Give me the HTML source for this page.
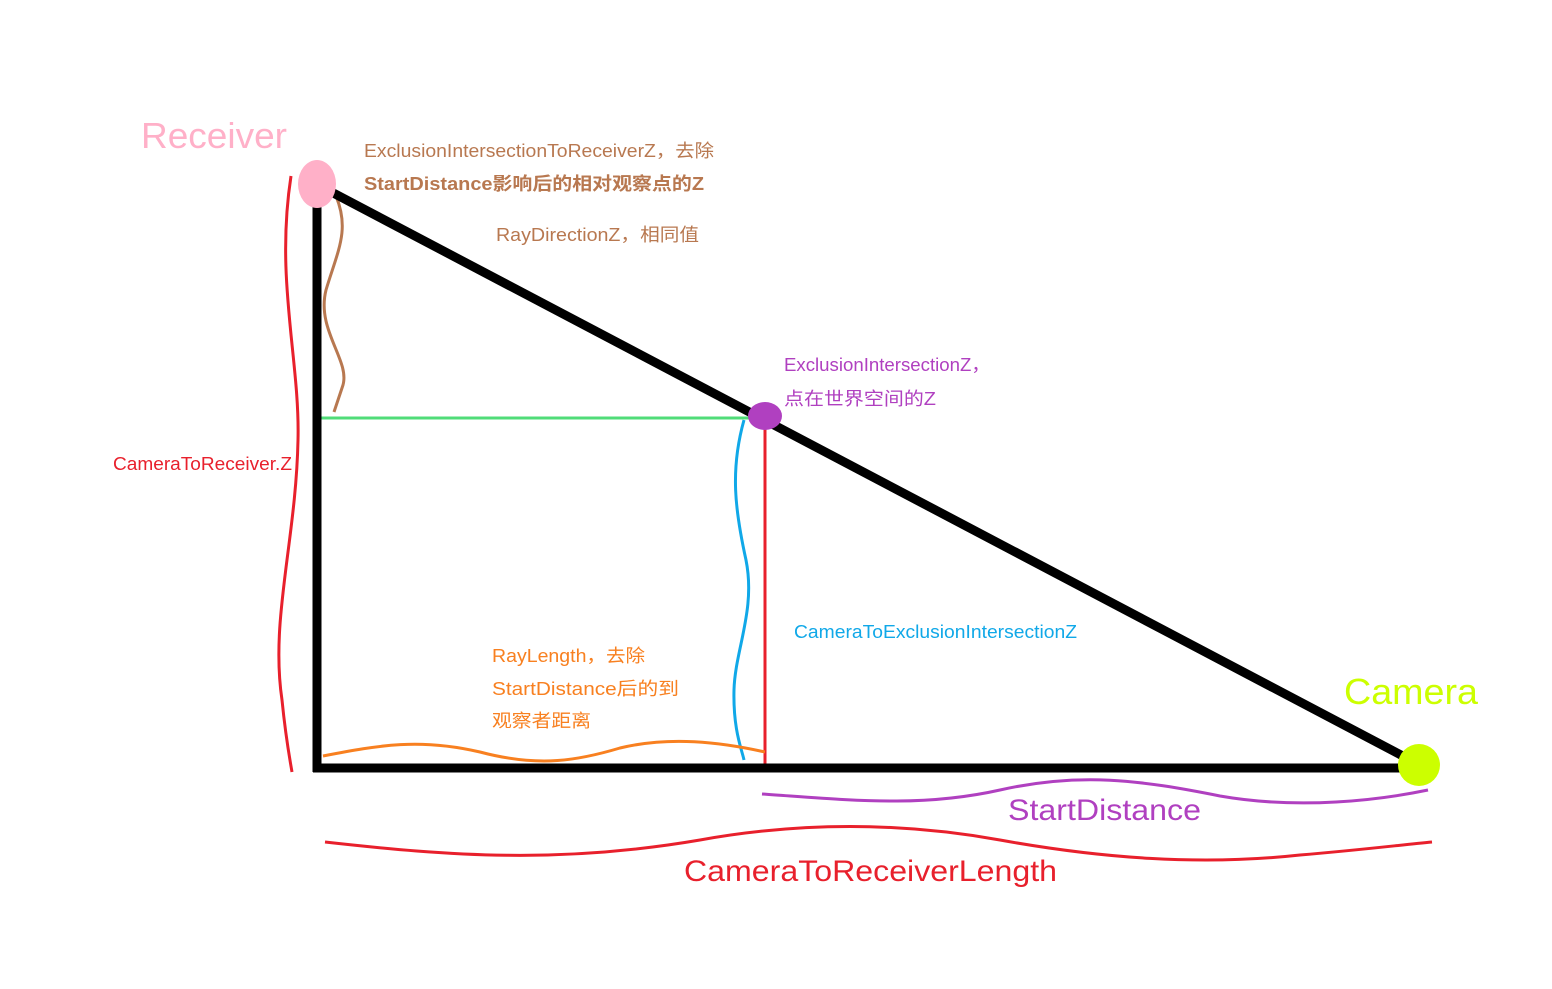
<!DOCTYPE html>
<html><head><meta charset="utf-8"><style>
html,body{margin:0;padding:0;background:#fff;}
svg{display:block;}
text{font-family:"Liberation Sans","Noto Sans CJK SC",sans-serif;}
</style></head><body>
<svg width="1552" height="989" viewBox="0 0 1552 989" xmlns="http://www.w3.org/2000/svg">
<rect width="1552" height="989" fill="#fff"/>
<path d="M291,176 C275,280 300,360 298,440 C296,540 270,620 282,700 C286,740 290,760 292,772" fill="none" stroke="#e8202c" stroke-width="3"/>
<path d="M336,196 C350,230 338,250 326,290 C316,330 350,360 343,385 C338,400 336,406 334,412" fill="none" stroke="#b87850" stroke-width="3"/>
<line x1="318" y1="418" x2="752" y2="418" stroke="#50dc78" stroke-width="3"/>
<line x1="765" y1="420" x2="765" y2="771" stroke="#e8202c" stroke-width="3"/>
<path d="M744,420 C730,470 735,510 746,560 C756,610 735,650 734,690 C733,730 742,750 744,760" fill="none" stroke="#10a8e8" stroke-width="3"/>
<path d="M323,756 C380,745 420,738 480,752 C540,768 580,760 620,748 C670,736 720,742 765,752" fill="none" stroke="#f88020" stroke-width="3"/>
<line x1="317" y1="180" x2="317" y2="772" stroke="#000" stroke-width="9"/>
<line x1="313" y1="768" x2="1420" y2="768" stroke="#000" stroke-width="9"/>
<line x1="320" y1="186" x2="1418" y2="764" stroke="#000" stroke-width="9"/>
<ellipse cx="317" cy="184" rx="19" ry="24" fill="#ffb0c8"/>
<ellipse cx="765" cy="416" rx="17" ry="14" fill="#b040c0"/>
<circle cx="1419" cy="765" r="21" fill="#ccff00"/>
<path d="M762,794 C850,800 920,808 1000,790 C1080,772 1140,780 1220,796 C1300,810 1380,800 1428,790" fill="none" stroke="#b040c0" stroke-width="3"/>
<path d="M325,842 C450,856 560,864 700,840 C800,822 900,822 1000,840 C1100,858 1200,866 1300,855 C1360,850 1400,845 1432,842" fill="none" stroke="#e8202c" stroke-width="3"/>
<text x="141" y="148" font-size="36" fill="#ffb0c8" textLength="146" lengthAdjust="spacingAndGlyphs">Receiver</text>
<text x="1344" y="704" font-size="36" fill="#ccff00" textLength="134" lengthAdjust="spacingAndGlyphs">Camera</text>
<text x="364" y="157" font-size="18" fill="#b87850" textLength="350" lengthAdjust="spacingAndGlyphs">ExclusionIntersectionToReceiverZ，去除</text>
<text x="364" y="190" font-size="18" fill="#b87850" font-weight="bold" textLength="340" lengthAdjust="spacingAndGlyphs">StartDistance影响后的相对观察点的Z</text>
<text x="496" y="241" font-size="18" fill="#b87850" textLength="203" lengthAdjust="spacingAndGlyphs">RayDirectionZ，相同值</text>
<text x="784" y="371" font-size="18" fill="#b040c0" textLength="206" lengthAdjust="spacingAndGlyphs">ExclusionIntersectionZ，</text>
<text x="784" y="405" font-size="18" fill="#b040c0" textLength="152" lengthAdjust="spacingAndGlyphs">点在世界空间的Z</text>
<text x="113" y="470" font-size="18" fill="#e8202c" textLength="179" lengthAdjust="spacingAndGlyphs">CameraToReceiver.Z</text>
<text x="794" y="638" font-size="18" fill="#10a8e8" textLength="283" lengthAdjust="spacingAndGlyphs">CameraToExclusionIntersectionZ</text>
<text x="492" y="662" font-size="18" fill="#f88020" textLength="153" lengthAdjust="spacingAndGlyphs">RayLength，去除</text>
<text x="492" y="695" font-size="18" fill="#f88020" textLength="187" lengthAdjust="spacingAndGlyphs">StartDistance后的到</text>
<text x="492" y="727" font-size="18" fill="#f88020" textLength="99" lengthAdjust="spacingAndGlyphs">观察者距离</text>
<text x="1008" y="820" font-size="30" fill="#b040c0" textLength="193" lengthAdjust="spacingAndGlyphs">StartDistance</text>
<text x="684" y="881" font-size="30" fill="#e8202c" textLength="373" lengthAdjust="spacingAndGlyphs">CameraToReceiverLength</text>
</svg>
</body></html>
